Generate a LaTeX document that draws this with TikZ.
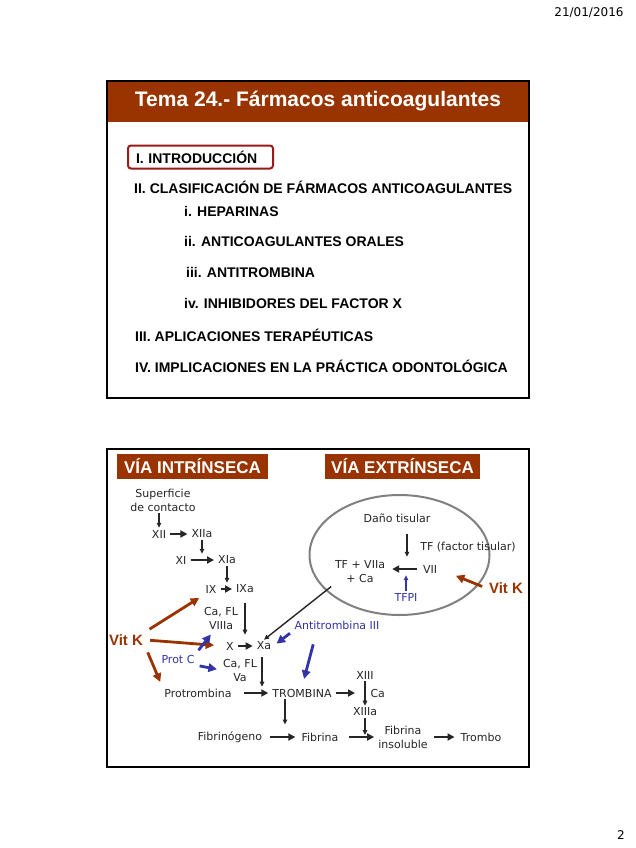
\documentclass[tikz,border=0pt]{standalone}
\usepackage{fontspec}
\setmainfont{Liberation Sans}
\newfontfamily\verd{DejaVu Sans}
\usetikzlibrary{positioning,arrows.meta}
\definecolor{marron}{RGB}{153,51,0}
\definecolor{azul}{RGB}{51,51,170}
\definecolor{granate}{RGB}{155,25,25}

\begin{document}
\begin{tikzpicture}[x=1pt,y=-1pt,>={Triangle[length=7pt,width=7pt]},
    item/.style={anchor=west,inner sep=0pt,font=\fontsize{14}{16}\selectfont\bfseries},
    fase/.style={fill=marron,text=white,inner sep=0pt,minimum height=25pt,font=\fontsize{17}{19}\selectfont\bfseries},
    txt/.style={inner sep=2pt,align=center,text=black!85,font=\verd\fontsize{11}{14}\selectfont},
    vit/.style={text=marron,inner sep=3pt,font=\fontsize{15}{17}\selectfont\bfseries},
    rx/.style={->,black!85,line width=2.5pt,shorten <=2pt,shorten >=2pt},
    dn/.style={-{Triangle[length=5pt,width=4.5pt]},black!85,line width=1.1pt},
    vitk/.style={->,marron,line width=2.8pt,shorten <=4pt,shorten >=5pt,>={Triangle[length=8.5pt,width=8.5pt]}},
    inh/.style={->,azul,line width=2.8pt,shorten <=3pt,shorten >=4pt,>={Triangle[length=8.5pt,width=8.5pt]}}]
\useasboundingbox[fill=white] (0,0) rectangle (636,848);

\node (fecha) [font=\verd\fontsize{12}{14}\selectfont] at (589,13) {21/01/2016};
\node (pag) [font=\verd\fontsize{12}{14}\selectfont] at (621,835) {2};

\fill[marron] (107,81) rectangle (529,122);
\draw[line width=1.5pt] (107,81) rectangle (529,398);
\node (tema) [text=white,font=\fontsize{21}{24}\selectfont\bfseries] at (318,101) {Tema 24.- Fármacos anticoagulantes};
\node (intro) [draw=granate,line width=2pt,rounded corners=3pt,anchor=west,inner xsep=8pt,
    text width=129pt,minimum height=23pt,align=left,font=\fontsize{14}{16}\selectfont\bfseries] at (127,157) {I. INTRODUCCIÓN};
\node (clasif) [item] at (134,187) {II. CLASIFICACIÓN DE FÁRMACOS ANTICOAGULANTES};
\node (hep) [item] at (184,211) {i. HEPARINAS};
\node (orales) [item] at (184,241) {ii. ANTICOAGULANTES ORALES};
\node (antitromb) [item] at (186,272) {iii. ANTITROMBINA};
\node (inhib) [item] at (184,303) {iv. INHIBIDORES DEL FACTOR X};
\node (aplic) [item] at (135,335) {III. APLICACIONES TERAPÉUTICAS};
\node (implic) [item] at (135,366) {IV. IMPLICACIONES EN LA PRÁCTICA ODONTOLÓGICA};

\draw[line width=1.5pt] (107,449) rectangle (529,767);
\node (intrins) [fase,minimum width=151pt] at (192.5,466) {VÍA INTRÍNSECA};
\node (extrins) [fase,minimum width=155pt] at (402.5,466) {VÍA EXTRÍNSECA};
\draw[gray,line width=2pt] (399.5,555) ellipse [x radius=90pt,y radius=60pt];

\node (sup) [txt] at (163,500) {Superficie\\de contacto};
\node (xii) [txt] at (159,534) {XII};
\node (xiia) [txt] at (202,534) {XIIa};
\node (xi) [txt] at (181,560) {XI};
\node (xia) [txt] at (227,560) {XIa};
\node (ix) [txt] at (211,589) {IX};
\node (ixa) [txt] at (245,589) {IXa};
\node (viiia) [txt] at (221,618) {Ca, FL\\VIIIa};
\node (x) [txt] at (230,646) {X};
\node (xa) [txt] at (264,646) {Xa};
\node (va) [txt] at (240,670) {Ca, FL\\Va};
\node (protromb) [txt] at (198,693) {Protrombina};
\node (tromb) [txt] at (302,693) {TROMBINA};
\node (fibrinog) [txt] at (230,737) {Fibrinógeno};
\node (fibrina) [txt] at (320,737) {Fibrina};
\node (xiii) [txt] at (365,675) {XIII};
\node (xiiia) [txt] at (365,712) {XIIIa};
\node (insol) [txt] at (403,737) {Fibrina\\insoluble};
\node (trombo) [txt] at (481,737) {Trombo};
\node (dano) [txt] at (397,518) {Daño tisular};
\node (tf) [txt] at (468,547) {TF (factor tisular)};
\node (vii) [txt] at (430,569) {VII};
\node (tfviia) [txt] at (360,572) {TF + VIIa\\+ Ca};
\node (tfpi) [txt,text=azul] at (406,597) {TFPI};
\node (vitkb) [vit] at (506,588) {Vit K};
\node (vitka) [vit] at (126,640) {Vit K};
\node (protc) [txt,text=azul] at (178,659) {Prot C};
\node (at3) [txt,text=azul] at (337,625) {Antitrombina III};

\draw[dn] (sup.south -| xii.north) -- (xii.north);
\draw[rx] (xii) -- (xiia);
\draw[dn] (xiia.south) -- (xiia.south |- xi.north);
\draw[rx] (xi) -- (xia);
\draw[dn] (xia.south) -- (xia.south |- ix.north);
\draw[rx] (ix) -- (ixa);
\draw[dn,shorten >=5pt] ([yshift=-8pt]ixa.south) -- (ixa.south |- xa.north);
\draw[rx] (x) -- (xa);
\draw[dn] ([xshift=-2pt,yshift=-5pt]xa.south) -- ([xshift=-2pt]xa.south |- tromb.north);
\draw[rx,shorten <=10pt] (protromb) -- (tromb);
\draw[dn,line width=1.4pt] ([xshift=-17pt]tromb.south) -- ([xshift=-17pt,yshift=6pt]tromb.south |- fibrina.north);
\draw[rx,shorten <=6pt,shorten >=4pt] (fibrinog) -- (fibrina);
\draw[rx,shorten >=10pt] (tromb) -- (tromb -| xiii);
\draw[dn] (xiii) -- node[txt,right=3pt] {Ca} (xiiia);
\draw[dn] (xiiia.south) -- ([yshift=2pt]xiiia.south |- insol.west);
\draw[rx,shorten <=8pt] (fibrina) -- (insol.west |- fibrina);
\draw[rx,shorten <=4pt,shorten >=4pt] (insol) -- (trombo);

\draw[dn,line width=1.3pt,shorten >=6pt] ([xshift=10pt,yshift=-9pt]dano.south) -- ([xshift=10pt]dano.south |- vii.north);
\draw[rx,shorten <=4pt,shorten >=5pt] (vii.west) -- (vii.west -| tfviia.east);
\draw[dn,azul,line width=1.6pt] (tfpi.north) -- (tfpi.north |- vii.south);
\draw[dn,line width=1.4pt,shorten <=2pt] (tfviia.south west) -- (xa.north);
\draw[vitk,shorten >=18pt] (vitkb.west) -- (vii.east);

\draw[vitk] (vitka.north east) -- (ix.south west);
\draw[vitk,shorten >=10pt] (vitka.east) -- (x.west);
\draw[vitk] (vitka.south east) -- (protromb.north west);
\draw[inh] (protc.north east) -- (viiia.240);
\draw[inh] (protc.south east) -- (va.west);
\draw[inh] (at3.south west) -- (xa.east);
\draw[inh,shorten >=8pt] ([xshift=-23pt,yshift=-10pt]at3.south) -- (tromb.north);
\end{tikzpicture}
\end{document}
